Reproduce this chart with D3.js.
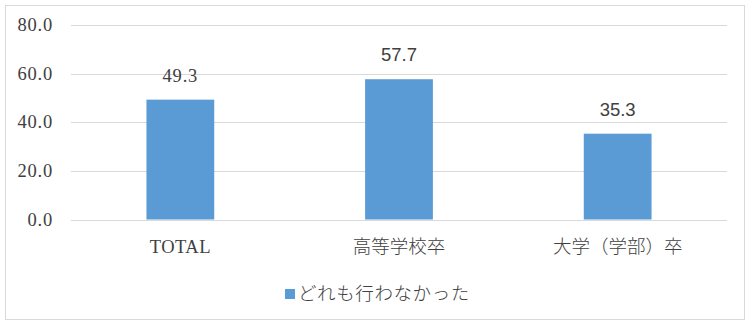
<!DOCTYPE html>
<html>
<head>
<meta charset="utf-8">
<script src="https://cdn.jsdelivr.net/npm/d3@7"></script>
<style>
  body { margin: 0; background: #fff; }
  svg { display: block; }
</style>
</head>
<body>
<svg width="750" height="327"></svg>
<script>
var categories = ["TOTAL", "高等学校卒", "大学（学部）卒"];
var values = [49.3, 57.7, 35.3];
var seriesName = "どれも行わなかった";
var yTicks = [0, 20, 40, 60, 80];

var svg = d3.select("svg"),
    width = +svg.attr("width"),
    height = +svg.attr("height");

var plot = {left: 71, right: 727, top: 25, bottom: 219.5};
var textColor = "#404040";
var barColor = "#5b9bd5";
var serif = "'Liberation Serif', 'Times New Roman', serif";
var cjkFont = "'Noto Sans CJK JP', sans-serif";

// frame
svg.append("rect")
    .attr("x", 5.5).attr("y", 5.5)
    .attr("width", 739).attr("height", 314)
    .attr("fill", "#fff")
    .attr("stroke", "#d9d9d9");

var x = d3.scaleBand()
    .domain(categories)
    .range([plot.left, plot.right])
    .paddingInner(0.69)
    .paddingOuter(0.345);

var y = d3.scaleLinear()
    .domain([0, 80])
    .range([plot.bottom, plot.top]);

// gridlines
svg.append("g")
    .selectAll("line")
    .data(yTicks)
    .enter().append("line")
    .attr("x1", plot.left).attr("x2", plot.right)
    .attr("y1", function (d) { return Math.round(y(d)) + 0.5; })
    .attr("y2", function (d) { return Math.round(y(d)) + 0.5; })
    .attr("stroke", "#d9d9d9")
    .attr("stroke-width", 1);

// y axis labels
var yAxis = d3.axisLeft(y)
    .tickValues(yTicks)
    .tickFormat(d3.format(".1f"))
    .tickSize(0)
    .tickPadding(0);

var yg = svg.append("g")
    .attr("transform", "translate(53,0)")
    .call(yAxis);
yg.select(".domain").remove();
yg.selectAll("text")
    .attr("fill", textColor)
    .attr("font-family", serif)
    .attr("font-size", 18.5)
    .attr("letter-spacing", 0.8)
    .attr("dy", "0.3em");

// bars
svg.append("g")
    .selectAll("rect")
    .data(values)
    .enter().append("rect")
    .attr("x", function (d, i) { return x(categories[i]); })
    .attr("y", function (d) { return y(d); })
    .attr("width", x.bandwidth())
    .attr("height", function (d) { return y(0) - y(d); })
    .attr("fill", barColor);

// value labels (first one is serif in the reference, others sans)
var labelFonts = [serif, "'Liberation Sans', Arial, sans-serif", "'Liberation Sans', Arial, sans-serif"];
svg.append("g")
    .selectAll("text")
    .data(values)
    .enter().append("text")
    .attr("x", function (d, i) { return x(categories[i]) + x.bandwidth() / 2; })
    .attr("y", function (d) { return y(d) - 18; })
    .attr("text-anchor", "middle")
    .attr("fill", textColor)
    .attr("font-family", function (d, i) { return labelFonts[i]; })
    .attr("font-size", 18.5)
    .attr("letter-spacing", function (d, i) { return i == 0 ? 0.8 : 0; })
    .text(function (d) { return d3.format(".1f")(d); });

// category labels
var xAxis = d3.axisBottom(x).tickSize(0).tickPadding(0);
var xg = svg.append("g")
    .attr("transform", "translate(0,253)")
    .call(xAxis);
xg.select(".domain").remove();
xg.selectAll("text")
    .attr("y", 0)
    .attr("dy", 0)
    .attr("fill", textColor)
    .each(function (d) {
        var cjk = /[^\x00-\x7f]/.test(d);
        d3.select(this)
            .attr("font-family", cjk ? cjkFont : serif)
            .attr("font-weight", cjk ? 300 : 400)
            .attr("font-size", cjk ? 18.5 : 18.5)
            .attr("letter-spacing", cjk ? 0 : 0.5);
    });

// legend
var legend = svg.append("g").attr("transform", "translate(285,289)");
legend.append("rect")
    .attr("width", 10).attr("height", 10)
    .attr("fill", barColor);
legend.append("text")
    .attr("x", 13)
    .attr("y", 11)
    .attr("fill", textColor)
    .attr("font-family", cjkFont)
    .attr("font-weight", 300)
    .attr("font-size", 18.5)
    .attr("letter-spacing", 0.6)
    .text(seriesName);
</script>
</body>
</html>
